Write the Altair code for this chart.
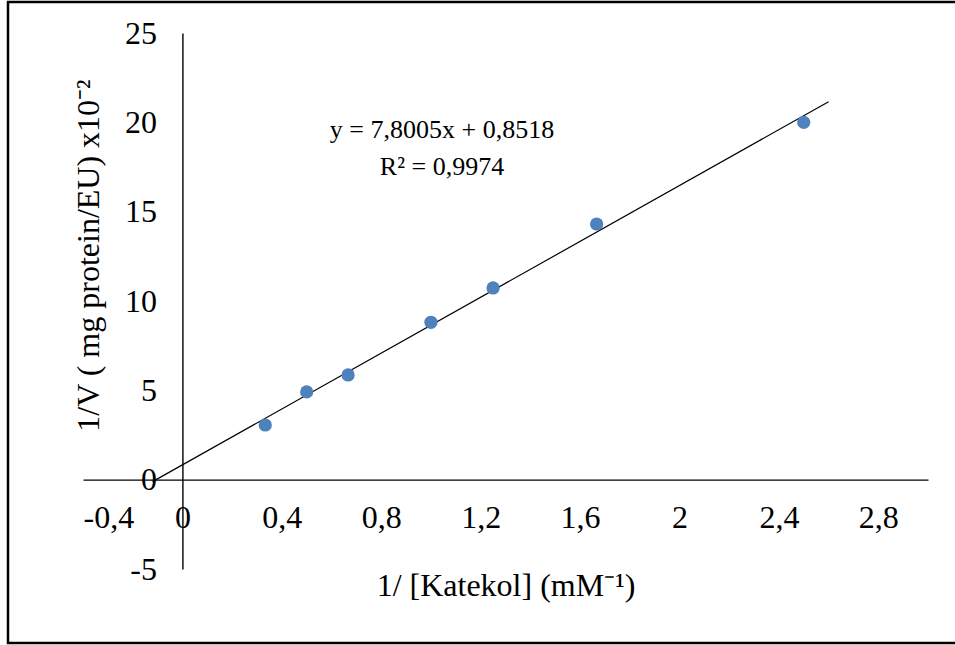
import altair as alt
import pandas as pd

# Data
inv_s = [0.3333, 0.5, 0.6667, 1.0, 1.25, 1.6667, 2.5]      # 1/[Katekol] (mM^-1)
inv_v = [3.06, 4.91, 5.86, 8.81, 10.73, 14.31, 20.0]        # 1/V x10^-2
x_ticks = [-0.4, 0, 0.4, 0.8, 1.2, 1.6, 2, 2.4, 2.8]
y_ticks = [-5, 0, 5, 10, 15, 20, 25]
equation_text = "y = 7,8005x + 0,8518\nR² = 0,9974"
trend_extent = [-0.12, 2.6]

df = pd.DataFrame({"x": inv_s, "y": inv_v})

FONT = "Liberation Serif"
W, H = 845, 536

xscale = alt.Scale(domain=[-0.4, 3.0], nice=False, zero=False)
yscale = alt.Scale(domain=[-5, 25], nice=False, zero=False)

x_axis = alt.Axis(
    values=x_ticks,
    labelExpr="replace(toString(datum.value), '.', ',')",
    ticks=False, tickSize=0, grid=False,
    domainColor="#000000", domainWidth=1.4,
    offset=-(H - H * 25 / 30),
    labelPadding=23, labelFont=FONT, labelFontSize=32, labelColor="#000000",
    title="1/ [Katekol] (mM⁻¹)", titleFont=FONT, titleFontSize=32,
    titleFontWeight="normal", titleColor="#000000",
    titleY=116, titleBaseline="alphabetic",
)
y_axis = alt.Axis(
    values=y_ticks,
    labelExpr="toString(datum.value)",
    ticks=False, tickSize=0, grid=False,
    domainColor="#000000", domainWidth=1.4,
    offset=-(W * 0.4 / 3.4),
    labelPadding=26, labelFont=FONT, labelFontSize=32, labelColor="#000000",
    title="1/V ( mg protein/EU) x10⁻²", titleFont=FONT, titleFontSize=32,
    titleFontWeight="normal", titleColor="#000000",
    titleX=-84, titleY=222, titleAngle=270, titleAlign="center",
    titleBaseline="alphabetic",
)

base = alt.Chart(df)

points = base.mark_circle(size=175, color="#4F81BD", opacity=1).encode(
    x=alt.X("x:Q", scale=xscale, axis=x_axis),
    y=alt.Y("y:Q", scale=yscale, axis=y_axis),
)

trend = base.transform_regression(
    "x", "y", method="linear", extent=trend_extent
).mark_line(color="#000000", strokeWidth=1.2).encode(
    x=alt.X("x:Q", scale=xscale),
    y=alt.Y("y:Q", scale=yscale),
)

eq = alt.Chart(pd.DataFrame({"t": [equation_text]})).mark_text(
    font=FONT, fontSize=26, color="#000000", align="center",
    baseline="middle", lineBreak="\n", lineHeight=37,
).encode(text="t:N", x=alt.value(359), y=alt.value(97))

border = alt.Chart(pd.DataFrame({"a": [0]})).mark_rect(
    fill=None, stroke="#000000", strokeWidth=2.5
).encode(
    x=alt.value(-75), x2=alt.value(890),
    y=alt.value(-31), y2=alt.value(610),
)

chart = alt.layer(border, trend, points, eq).properties(
    width=W, height=H,
    autosize=alt.AutoSizeParams(type="none"),
    padding={"left": 83, "top": 33, "right": 27, "bottom": 76},
    background="#ffffff",
).configure_view(strokeWidth=0)

chart.save("out.html", embed_options={"renderer": "svg", "actions": False})
